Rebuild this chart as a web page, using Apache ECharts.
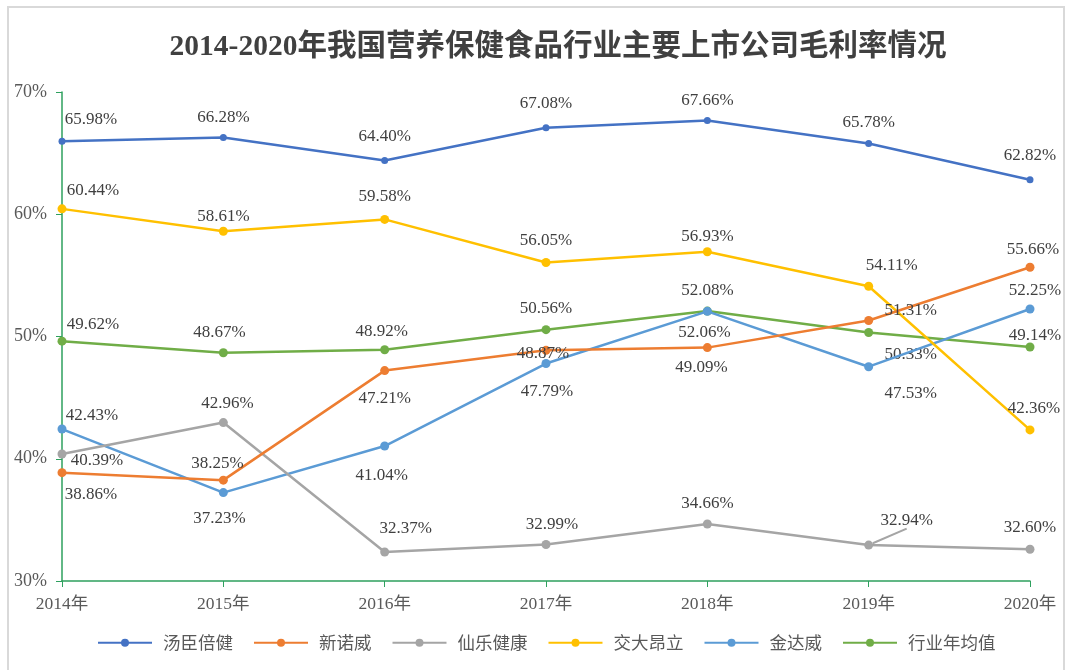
<!DOCTYPE html>
<html>
<head>
<meta charset="utf-8">
<script src="https://cdn.jsdelivr.net/npm/echarts@6/dist/echarts.min.js"></script>
<style>
  html, body { margin: 0; padding: 0; background: #fff; }
  #main { width: 1068px; height: 670px; }
</style>
</head>
<body>
<div id="main"></div>
<script>
// 数据
var years = ['2014年', '2015年', '2016年', '2017年', '2018年', '2019年', '2020年'];
var seriesNames = ['汤臣倍健', '新诺威', '仙乐健康', '交大昂立', '金达威', '行业年均值'];
var tangchen = [65.98, 66.28, 64.40, 67.08, 67.66, 65.78, 62.82];
var xinnuowei = [38.86, 38.25, 47.21, 48.87, 49.09, 51.31, 55.66];
var xianle = [40.39, 42.96, 32.37, 32.99, 34.66, 32.94, 32.60];
var jiaoda = [60.44, 58.61, 59.58, 56.05, 56.93, 54.11, 42.36];
var jindawei = [42.43, 37.23, 41.04, 47.79, 52.06, 47.53, 52.25];
var hangye = [49.62, 48.67, 48.92, 50.56, 52.08, 50.33, 49.14];
var yMin = 30, yMax = 70, yStep = 10;

// 样式：颜色、标签偏移（相对数据点中心）
var colors = ['#4472C4', '#ED7D31', '#A5A5A5', '#FFC000', '#5B9BD5', '#70AD47'];
var labelOffsets = [
    [[29, -22], [0, -20], [0, -24], [0, -24], [0, -20], [0, -21], [0, -24]],
    [[29, 22], [-6, -17], [0, 28], [-3, 3], [-6, 20], [42, -10], [3, -18]],
    [[35, 7], [4, -19], [21, -23], [6, -20], [0, -21], [38, -25], [0, -22]],
    [[31, -18], [0, -15], [0, -23], [0, -22], [0, -15], [23, -21], [4, -21]],
    [[30, -14], [-4, 26], [-3, 29], [1, 28], [-3, 21], [42, 27], [5, -18]],
    [[31, -17], [-4, -20], [-3, -18], [0, -21], [0, -21], [42, 22], [5, -11]]
];
var allData = [tangchen, xinnuowei, xianle, jiaoda, jindawei, hangye];

var myChart = echarts.init(document.getElementById('main'));

var series = allData.map(function (values, s) {
    return {
        name: seriesNames[s],
        type: 'line',
        symbol: 'circle',
        symbolSize: s === 0 ? 7 : 9,
        lineStyle: { width: 2.5, color: colors[s] },
        itemStyle: { color: colors[s] },
        label: {
            show: true,
            position: 'inside',
            color: '#404040',
            fontFamily: '"Liberation Serif", "Times New Roman", serif',
            fontSize: 17,
            formatter: function (p) { return p.value.toFixed(2) + '%'; }
        },
        labelLine: { show: false },
        data: values.map(function (v, i) {
            var item = { value: v, label: { offset: labelOffsets[s][i] } };
            // 2019年仙乐健康的引导线
            if (s === 2 && i === 5) {
                item.labelLine = { show: true, lineStyle: { color: '#A5A5A5', width: 2 } };
            }
            return item;
        }),
        z: 10 - s
    };
});

var option = {
    backgroundColor: '#fff',
    title: {
        text: '2014-2020年我国营养保健食品行业主要上市公司毛利率情况',
        left: 553,
        textAlign: 'center',
        top: 28,
        textStyle: {
            fontFamily: '"Liberation Serif", "Noto Sans CJK SC", serif',
            fontWeight: 'bold',
            fontSize: 29.5,
            color: '#404040'
        }
    },
    legend: {
        data: seriesNames,
        left: 92,
        top: 629,
        itemWidth: 54,
        itemHeight: 10,
        itemGap: 20,
        textStyle: {
            fontFamily: '"Noto Sans CJK SC", sans-serif',
            fontSize: 17.5,
            color: '#595959',
            padding: [0, 0, 0, 6]
        }
    },
    grid: {
        left: 62,
        right: 38,
        top: 92,
        bottom: 89,
        outerBoundsMode: 'none'
    },
    xAxis: {
        type: 'category',
        data: years,
        boundaryGap: false,
        axisLine: { lineStyle: { color: '#2EA05E', width: 1.5 } },
        axisTick: { show: true, alignWithLabel: true, length: 6, lineStyle: { color: '#2EA05E' } },
        axisLabel: {
            margin: 15,
            color: '#595959',
            fontFamily: '"Liberation Serif", "Noto Sans CJK SC", serif',
            fontSize: 17.5
        },
        splitLine: { show: false }
    },
    yAxis: {
        type: 'value',
        min: yMin,
        max: yMax,
        interval: yStep,
        axisLine: { show: true, lineStyle: { color: '#2EA05E', width: 1.5 } },
        axisTick: { show: true, length: 6, lineStyle: { color: '#2EA05E' } },
        axisLabel: {
            margin: 15,
            color: '#595959',
            fontFamily: '"Liberation Serif", serif',
            fontSize: 18,
            formatter: '{value}%'
        },
        splitLine: { show: false }
    },
    graphic: [{
        type: 'rect',
        shape: { x: 8, y: 7, width: 1056, height: 680 },
        style: { fill: 'none', stroke: '#D9D9D9', lineWidth: 2 },
        silent: true,
        z: -1
    }],
    series: series
};

myChart.setOption(option);
</script>
</body>
</html>
